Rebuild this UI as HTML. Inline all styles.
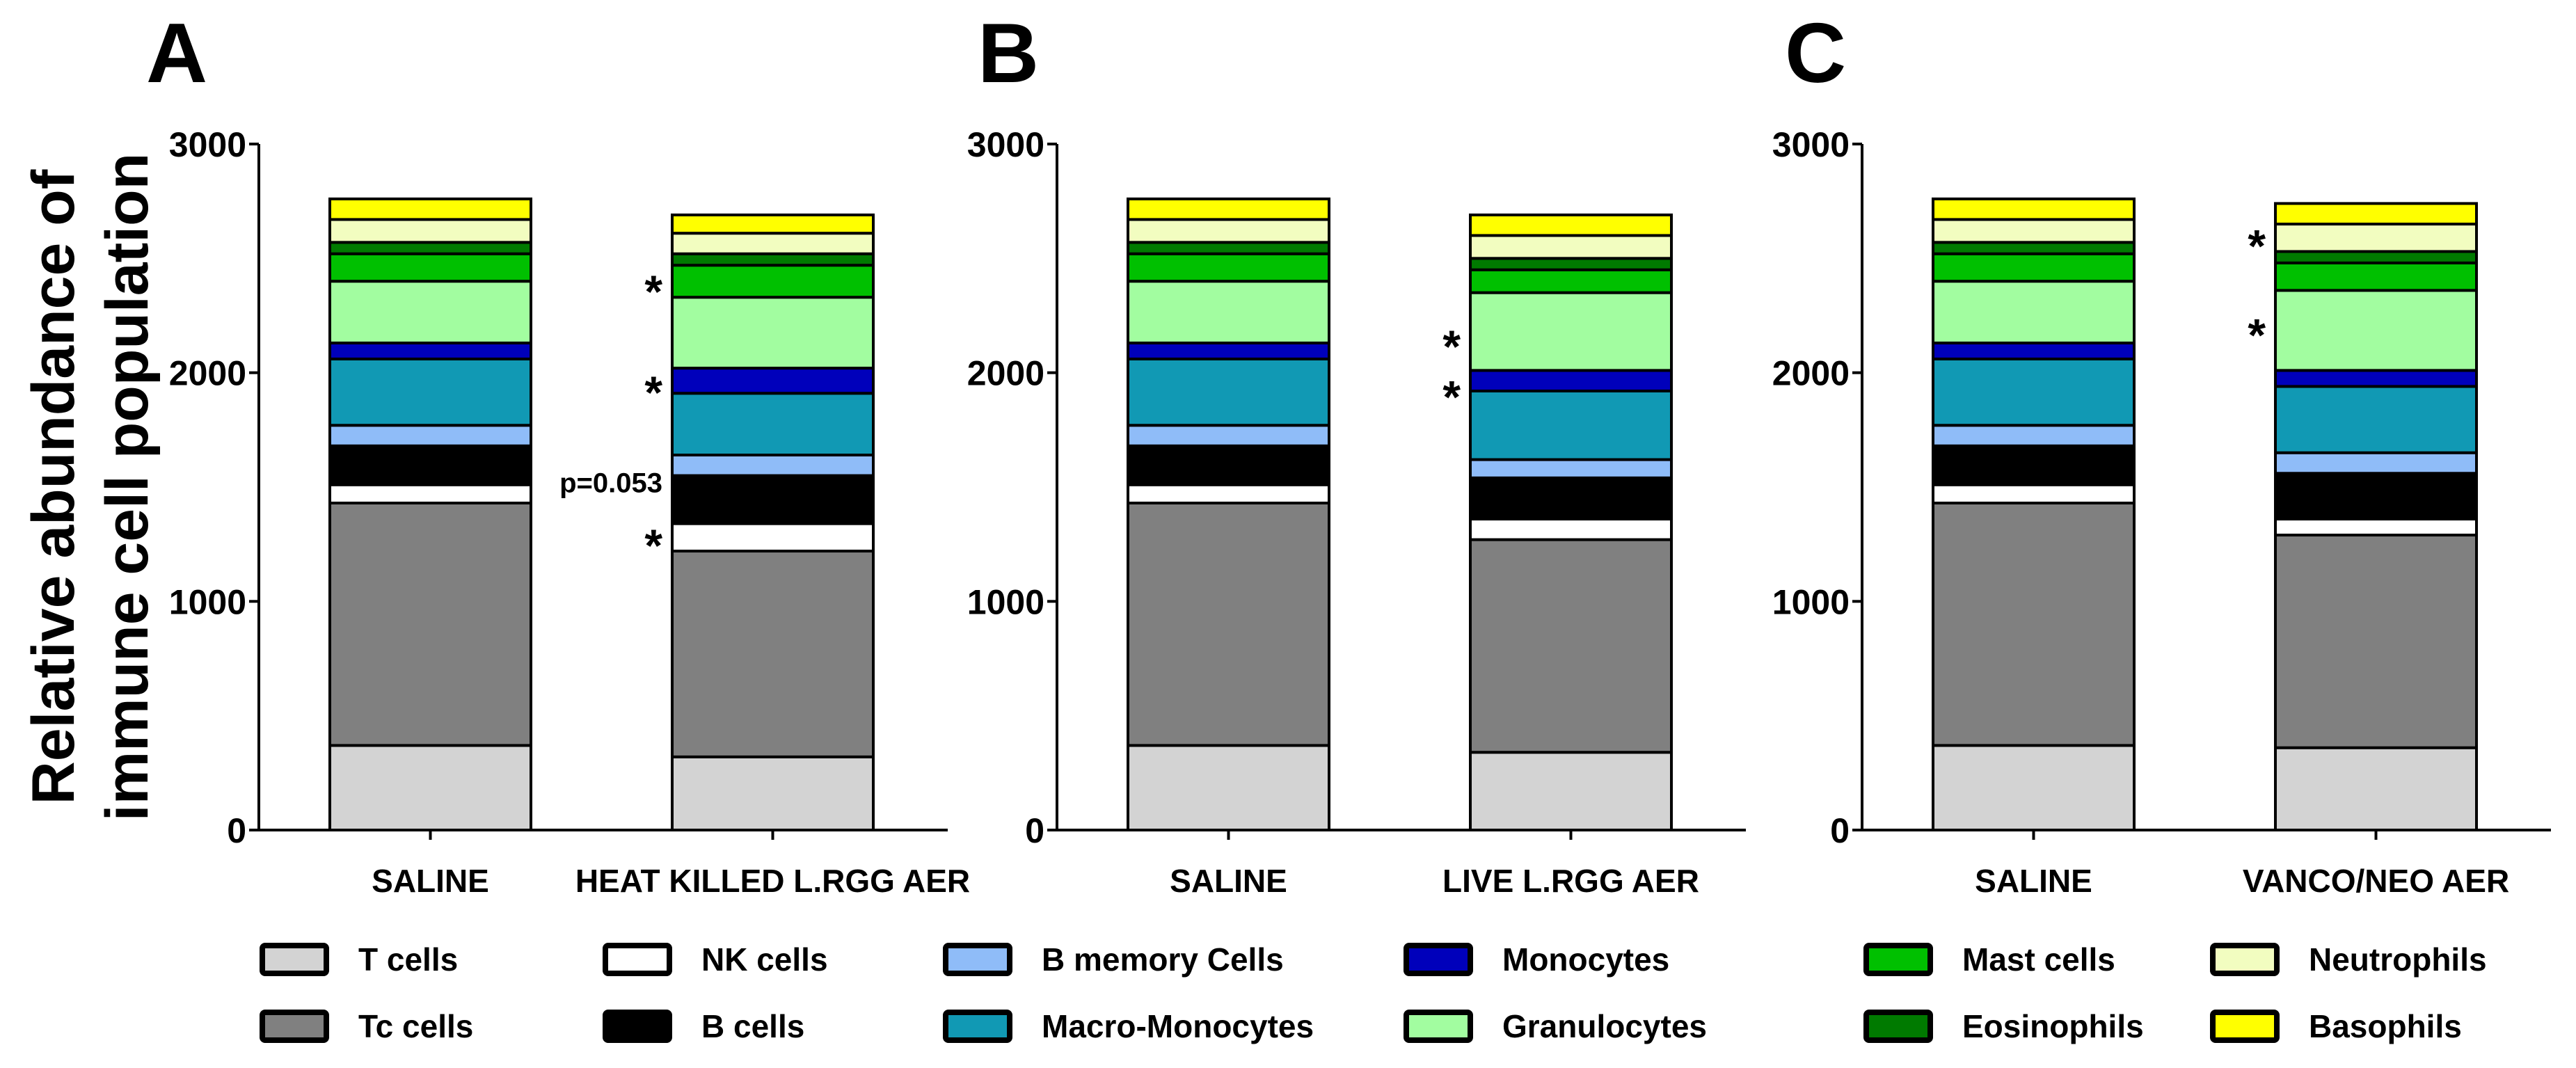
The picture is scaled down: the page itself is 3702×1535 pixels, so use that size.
<!DOCTYPE html>
<html><head><meta charset="utf-8"><style>
body{margin:0;background:#fff;}
svg{display:block;font-family:"Liberation Sans",Arial,sans-serif;}
</style></head><body>
<svg id="chart" width="3702" height="1535" viewBox="0 0 3702 1535"></svg>
<script>
const cellTypes=["T cells","Tc cells","NK cells","B cells","B memory Cells","Macro-Monocytes","Monocytes","Granulocytes","Mast cells","Eosinophils","Neutrophils","Basophils"];
const colors=["#d3d3d3","#808080","#ffffff","#000000","#8fbcf8","#1199b4","#0000bb","#a2fda0","#00c000","#007a00","#f2fdc0","#ffff00"];
const panelLetters=["A","B","C"];
const groupLabels=[["SALINE","HEAT KILLED L.RGG AER"],["SALINE","LIVE L.RGG AER"],["SALINE","VANCO/NEO AER"]];
// cumulative tops per cell type
const salineTops=[370,1430,1510,1680,1770,2060,2130,2400,2520,2570,2670,2760];
const heatKilledTops=[320,1220,1340,1550,1640,1910,2020,2330,2470,2520,2610,2690];
const liveTops=[340,1270,1360,1540,1620,1920,2010,2350,2450,2500,2600,2690];
const vancoTops=[360,1290,1360,1560,1650,1940,2010,2360,2480,2530,2650,2740];
const yTicks=[0,1000,2000,3000];
const panelData=[[salineTops,heatKilledTops],[salineTops,liveTops],[salineTops,vancoTops]];
const annotations=[[["*",2400],["*",1960],["p=0.053",1520],["*",1290]],[["*",2160],["*",1940]],[["*",2600],["*",2210]]];

const NS="http://www.w3.org/2000/svg";
const svg=document.getElementById('chart');
function mk(tag,attrs,parent){const e=document.createElementNS(NS,tag);for(const k in attrs)e.setAttribute(k,attrs[k]);(parent||svg).appendChild(e);return e;}
const Y0=1193,Y3000=207;
function y(v){return Y0-(v/3000)*(Y0-Y3000);}
const axisX=[372,1519,2676];
const letterX=[210,1405,2565];

panelData.forEach((bars,p)=>{
  const ax=axisX[p];
  const g=mk('g',{});
  
  
  const L=mk('text',{x:letterX[p],y:118,'font-size':122,'font-weight':'bold'},g);
  L.textContent=panelLetters[p];
  
  
  const ya=mk('line',{x1:ax,y1:Y3000,x2:ax,y2:Y0,stroke:'#000','stroke-width':4},g);
  
  
  const xa=mk('line',{x1:ax-2,y1:Y0,x2:ax+990,y2:Y0,stroke:'#000','stroke-width':4},g);
  
  
  yTicks.forEach(t=>{
    mk('line',{x1:ax-14,y1:y(t),x2:ax,y2:y(t),stroke:'#000','stroke-width':4},g);
    const tt=mk('text',{x:ax-18,y:y(t)+18,'font-size':50,'font-weight':'bold','text-anchor':'end'},g);
    tt.textContent=t;
    
    
  });
  bars.forEach((tops,b)=>{
    const bx=ax+102+b*492, bw=289;
    const cx=bx+bw/2;
    mk('line',{x1:cx,y1:Y0,x2:cx,y2:Y0+14,stroke:'#000','stroke-width':4},g);
    let prev=0;
    tops.forEach((top,i)=>{
      const r=mk('rect',{x:bx,y:y(top),width:bw,height:y(prev)-y(top),fill:colors[i],stroke:'#000','stroke-width':4},g);
      
      
      prev=top;
    });
    const lab=mk('text',{x:cx,y:1282,'font-size':46,'font-weight':'bold','text-anchor':'middle'},g);
    lab.textContent=groupLabels[p][b];
    
    
  });
  annotations[p].forEach(a=>{
    const bx=ax+102+492;
    const isStar=a[0]==='*';
    const t=mk('text',{x:bx-14,y:y(a[1])+(isStar?38:14),'font-size':isStar?66:40,'font-weight':'bold','text-anchor':'end'},g);
    t.textContent=a[0];
    
    
  });
});
const yt=mk('text',{transform:'translate(106,700) rotate(-90)','font-size':86,'font-weight':'bold','text-anchor':'middle'});
yt.textContent='Relative abundance of';


const yt2=mk('text',{transform:'translate(212,700) rotate(-90)','font-size':86,'font-weight':'bold','text-anchor':'middle'});
yt2.textContent='immune cell population';


const legCols=[373,866,1355,2017,2678,3176];
const legOrder=[[0,1],[2,3],[4,5],[6,7],[8,9],[10,11]];
legOrder.forEach((pair,c)=>{
  pair.forEach((idx,r)=>{
    const cy=r===0?1379:1475;
    const lg=mk('g',{});
    
    
    mk('rect',{x:legCols[c]+4,y:cy-20,width:92,height:40,fill:colors[idx],stroke:'#000','stroke-width':8,rx:4},lg);
    const t=mk('text',{x:legCols[c]+142,y:cy+16,'font-size':46,'font-weight':'bold'},lg);
    t.textContent=cellTypes[idx];
  });
});
</script>
</body></html>
